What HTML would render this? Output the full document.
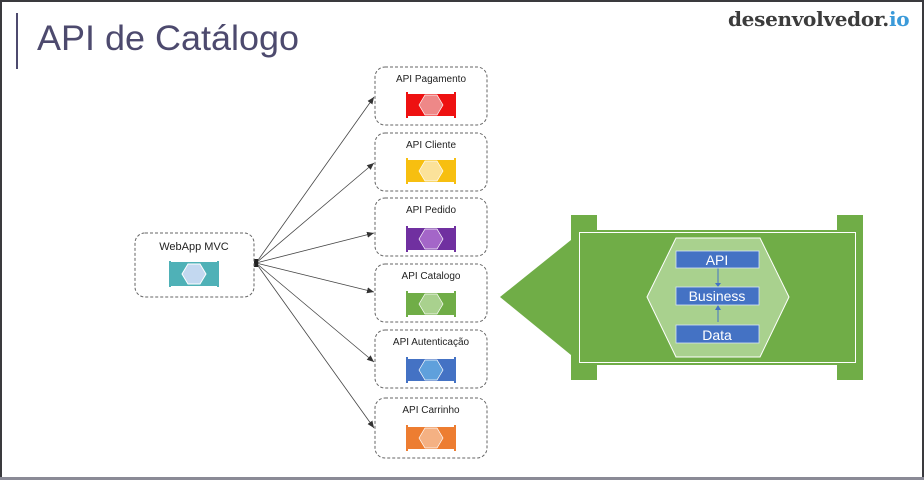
<!DOCTYPE html>
<html><head><meta charset="utf-8"><style>
html,body{margin:0;padding:0;background:#fff}
body{width:924px;height:480px;overflow:hidden}
</style></head><body>
<svg width="924" height="480" viewBox="0 0 924 480" xmlns="http://www.w3.org/2000/svg" font-family="Liberation Sans, sans-serif">
<defs>
<marker id="ah" markerWidth="8" markerHeight="8" refX="7" refY="4" orient="auto" markerUnits="userSpaceOnUse"><path d="M0,1 L7,4 L0,7 z" fill="#333"/></marker>
</defs>
<rect x="0" y="0" width="924" height="480" fill="#fff"/>
<rect x="0" y="0" width="924" height="2" fill="#3a3a3e"/>
<rect x="0" y="0" width="2" height="480" fill="#3a3a3e"/>
<rect x="922" y="0" width="2" height="480" fill="#3a3a3e"/>
<rect x="0" y="477" width="924" height="3" fill="#8a8a96"/>
<rect x="16" y="13" width="2" height="56" fill="#4d4a6e"/>
<text x="37" y="50" font-size="35" fill="#4d4a6e" textLength="262" lengthAdjust="spacingAndGlyphs" font-family="Liberation Sans, sans-serif">API de Catálogo</text>
<text x="728" y="26" font-size="20" font-weight="bold" fill="#3c3c3c" font-family="DejaVu Serif, serif" letter-spacing="-0.3">desenvolvedor.<tspan fill="#3b9ad9">io</tspan></text>

<g stroke="#444" stroke-width="0.8" fill="none" marker-end="url(#ah)">
<line x1="256" y1="263" x2="374" y2="97"/>
<line x1="256" y1="263" x2="374" y2="163"/>
<line x1="256" y1="263" x2="374" y2="233"/>
<line x1="256" y1="263" x2="374" y2="292"/>
<line x1="256" y1="263" x2="374" y2="362"/>
<line x1="256" y1="263" x2="374" y2="428"/>
</g>
<rect x="252" y="259" width="6" height="8" fill="#222"/>

<rect x="135" y="233" width="119" height="64" rx="10" fill="#fff" stroke="#666" stroke-dasharray="3,2"/>
<text x="194" y="250" font-size="11" text-anchor="middle" fill="#222">WebApp MVC</text>
<g transform="translate(194,262)">
<rect x="-23" y="0" width="46" height="24" fill="#4fb1b7"/>
<rect x="-25" y="-1" width="2" height="26" fill="#4fb1b7"/><rect x="23" y="-1" width="2" height="26" fill="#4fb1b7"/>
<polygon points="-12,12 -6,2 6,2 12,12 6,22 -6,22" fill="#c3d8f0" stroke="#fff"/>
</g>

<g font-size="10" text-anchor="middle" fill="#222">
<g transform="translate(375,67)">
<rect x="0" y="0" width="112" height="58" rx="10" fill="#fff" stroke="#666" stroke-dasharray="3,2"/>
<text x="56" y="15">API Pagamento</text>
<g transform="translate(56,27)"><rect x="-24" y="0" width="48" height="22" fill="#ee1111"/><rect x="-25" y="-2" width="2" height="26" fill="#ee1111"/><rect x="23" y="-2" width="2" height="26" fill="#ee1111"/><polygon points="-12,11 -6,1 6,1 12,11 6,21 -6,21" fill="#ee8888" stroke="#fff" stroke-width="0.7"/></g>
</g>
<g transform="translate(375,133)">
<rect x="0" y="0" width="112" height="58" rx="10" fill="#fff" stroke="#666" stroke-dasharray="3,2"/>
<text x="56" y="15">API Cliente</text>
<g transform="translate(56,27)"><rect x="-24" y="0" width="48" height="22" fill="#f7bf10"/><rect x="-25" y="-2" width="2" height="26" fill="#f7bf10"/><rect x="23" y="-2" width="2" height="26" fill="#f7bf10"/><polygon points="-12,11 -6,1 6,1 12,11 6,21 -6,21" fill="#fbe29a" stroke="#fff" stroke-width="0.7"/></g>
</g>
<g transform="translate(375,198)">
<rect x="0" y="0" width="112" height="58" rx="10" fill="#fff" stroke="#666" stroke-dasharray="3,2"/>
<text x="56" y="15">API Pedido</text>
<g transform="translate(56,30)"><rect x="-24" y="0" width="48" height="22" fill="#7030a0"/><rect x="-25" y="-2" width="2" height="26" fill="#7030a0"/><rect x="23" y="-2" width="2" height="26" fill="#7030a0"/><polygon points="-12,11 -6,1 6,1 12,11 6,21 -6,21" fill="#a466c8" stroke="#fff" stroke-width="0.7"/></g>
</g>
<g transform="translate(375,264)">
<rect x="0" y="0" width="112" height="58" rx="10" fill="#fff" stroke="#666" stroke-dasharray="3,2"/>
<text x="56" y="15">API Catalogo</text>
<g transform="translate(56,29)"><rect x="-24" y="0" width="48" height="22" fill="#70ad47"/><rect x="-25" y="-2" width="2" height="26" fill="#70ad47"/><rect x="23" y="-2" width="2" height="26" fill="#70ad47"/><polygon points="-12,11 -6,1 6,1 12,11 6,21 -6,21" fill="#a9d18e" stroke="#fff" stroke-width="0.7"/></g>
</g>
<g transform="translate(375,330)">
<rect x="0" y="0" width="112" height="58" rx="10" fill="#fff" stroke="#666" stroke-dasharray="3,2"/>
<text x="56" y="15">API Autenticação</text>
<g transform="translate(56,29)"><rect x="-24" y="0" width="48" height="22" fill="#4472c4"/><rect x="-25" y="-2" width="2" height="26" fill="#4472c4"/><rect x="23" y="-2" width="2" height="26" fill="#4472c4"/><polygon points="-12,11 -6,1 6,1 12,11 6,21 -6,21" fill="#5fa0dc" stroke="#fff" stroke-width="0.7"/></g>
</g>
<g transform="translate(375,398)">
<rect x="0" y="0" width="112" height="60" rx="10" fill="#fff" stroke="#666" stroke-dasharray="3,2"/>
<text x="56" y="15">API Carrinho</text>
<g transform="translate(56,29)"><rect x="-24" y="0" width="48" height="22" fill="#ed7d31"/><rect x="-25" y="-2" width="2" height="26" fill="#ed7d31"/><rect x="23" y="-2" width="2" height="26" fill="#ed7d31"/><polygon points="-12,11 -6,1 6,1 12,11 6,21 -6,21" fill="#f4b183" stroke="#fff" stroke-width="0.7"/></g>
</g>
</g>

<polygon points="500,297 571,240 571,355" fill="#70ad47"/>
<rect x="571" y="215" width="26" height="165" fill="#70ad47"/>
<rect x="837" y="215" width="26" height="165" fill="#70ad47"/>
<rect x="571" y="230" width="292" height="135" fill="#70ad47"/>
<rect x="579.5" y="232.5" width="276" height="130" fill="none" stroke="#fff" stroke-width="1"/>
<polygon points="647,297 676,238 760,238 789,297 760,357 676,357" fill="#a9d18e" stroke="#fff" stroke-width="1"/>
<g stroke="#4472c4" stroke-width="1">
<line x1="718" y1="268" x2="718" y2="284"/><line x1="718" y1="305" x2="718" y2="322"/>
</g>
<polygon points="715,283 721,283 718,287" fill="#4472c4"/>
<polygon points="715,310 721,310 718,305" fill="#4472c4"/>
<g fill="#4472c4" stroke="#d6e4f5" stroke-width="0.8">
<rect x="676" y="251" width="83" height="17"/>
<rect x="676" y="287" width="83" height="18"/>
<rect x="676" y="325" width="83" height="18"/>
</g>
<g fill="#fff" font-size="14" text-anchor="middle">
<text x="717" y="265">API</text>
<text x="717" y="301">Business</text>
<text x="717" y="340">Data</text>
</g>
</svg>
</body></html>
